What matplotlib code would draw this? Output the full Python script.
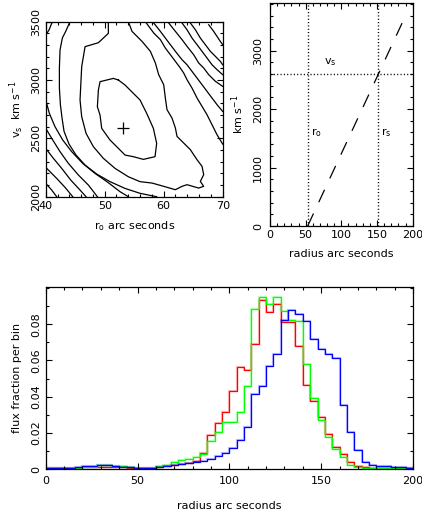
import numpy as np
import matplotlib
matplotlib.use("Agg")
import matplotlib.pyplot as plt
from matplotlib.ticker import MultipleLocator

plt.rcParams['font.family'] = ['DejaVu Sans']
plt.rcParams['mathtext.default'] = 'regular'
plt.rcParams['font.size'] = 8

# ---------------- data: contour panel (r0 [arcsec], vs [km/s]) ----------------
best_r0 = [53.05]
best_vs = [2591]

c1_r = [52.32, 51.47, 49.21, 48.93, 48.76, 49.21, 49.49, 50.90, 52.03, 53.45, 54.86, 56.55,
        58.53, 58.81, 58.25, 57.12, 55.99, 54.86, 53.45, 52.32]
c1_v = [3000, 3014, 2986, 2914, 2771, 2700, 2586, 2486, 2429, 2357, 2343, 2320,
        2343, 2457, 2586, 2714, 2829, 2886, 2957, 3000]

c2_r = [50.62, 50.62, 48.93, 46.67, 46.10, 45.82, 46.10, 46.84, 48.08, 49.77, 51.75, 54.01,
        55.99, 58.02, 60.00, 61.98, 63.11, 63.95, 65.93, 66.78, 66.21, 66.78, 66.50, 65.65,
        64.52, 63.11, 62.26, 61.98, 61.41, 60.56, 60.28, 60.00, 59.15, 58.59, 57.74, 56.33,
        54.63, 54.01]
c2_v = [3500, 3400, 3320, 3286, 3114, 2829, 2686, 2543, 2429, 2329, 2243, 2171,
        2129, 2117, 2089, 2060, 2089, 2103, 2074, 2089, 2131, 2189, 2260, 2317,
        2403, 2474, 2517, 2589, 2674, 2746, 2846, 2960, 3046, 3146, 3246, 3331,
        3417, 3500]

c3a_r = [44.12, 43.39, 42.82, 42.43, 42.32, 42.32, 42.49, 42.77, 43.11, 43.95, 45.14, 46.67,
         48.64, 50.90, 53.45, 55.99, 58.81]
c3a_v = [3500, 3417, 3360, 3257, 3103, 2931, 2789, 2674, 2560, 2451, 2357, 2271,
         2194, 2129, 2071, 2029, 2000]
c3b_r = [56.89, 58.31, 59.44, 60.28, 61.13, 61.98, 62.82, 63.39, 63.95, 64.80, 65.65, 66.50,
         67.34, 68.19, 69.04, 70.00]
c3b_v = [3500, 3403, 3346, 3274, 3217, 3160, 3103, 3060, 3003, 2931, 2846, 2774,
         2703, 2617, 2531, 2451]

c4a_r = [40.00, 40.62, 41.58, 42.88, 44.41, 46.27, 48.36, 50.62, 52.60, 54.01]
c4a_v = [2829, 2714, 2600, 2486, 2386, 2286, 2200, 2120, 2043, 2000]
c4b_r = [58.31, 59.44, 60.28, 61.13, 61.98, 63.11, 63.95, 64.80, 65.65, 66.50, 67.34, 68.19,
         69.04, 70.00]
c4b_v = [3489, 3417, 3360, 3303, 3246, 3174, 3131, 3074, 3017, 2960, 2903, 2846,
         2789, 2731]
c4c_r = [40.00, 40.56, 41.13]
c4c_v = [3386, 3429, 3500]

c5a_r = [40.00, 41.19, 42.43, 43.84, 45.54, 47.23, 48.76]
c5a_v = [2586, 2486, 2386, 2286, 2186, 2100, 2000]
c5b_r = [60.85, 61.98, 63.11, 63.95, 65.08, 65.93, 66.78, 67.63, 68.76, 70.00]
c5b_v = [3489, 3417, 3346, 3289, 3217, 3146, 3103, 3046, 2989, 2946]

c6a_r = [40.00, 41.30, 42.71, 44.24, 45.82, 46.84]
c6a_v = [2414, 2329, 2243, 2143, 2057, 2000]
c6b_r = [63.11, 63.95, 64.80, 65.65, 66.50, 67.34, 68.19, 69.04, 70.00]
c6b_v = [3489, 3431, 3360, 3303, 3246, 3189, 3131, 3089, 3046]

c7a_r = [40.00, 40.45, 41.86, 43.28, 44.58]
c7a_v = [2251, 2229, 2157, 2080, 2000]
c7b_r = [64.52, 65.37, 66.21, 67.06, 67.91, 68.76, 69.60, 70.00]
c7b_v = [3489, 3431, 3360, 3303, 3246, 3203, 3160, 3131]

c8a_r = [40.00, 41.02, 41.86]
c8a_v = [2114, 2057, 2000]
c8b_r = [67.63, 68.47, 69.04, 69.60, 70.00]
c8b_v = [3474, 3417, 3374, 3331, 3303]

contours = [(c1_r, c1_v), (c2_r, c2_v), (c3a_r, c3a_v), (c3b_r, c3b_v),
            (c4a_r, c4a_v), (c4b_r, c4b_v), (c4c_r, c4c_v),
            (c5a_r, c5a_v), (c5b_r, c5b_v), (c6a_r, c6a_v), (c6b_r, c6b_v),
            (c7a_r, c7a_v), (c7b_r, c7b_v), (c8a_r, c8a_v), (c8b_r, c8b_v)]

# ---------------- data: model panel ----------------
r0_line = 52.8
rs_line = 152.0
vs_line = 2600.0
shock_r = [52.8, 190.0]
shock_v = [0.0, 3600.0]

# ---------------- data: histograms (4 arcsec bins, 0..200) ----------------
bin_edges = list(range(0, 204, 4))
red_vals = [0.0003, 0.0003, 0.0004, 0.0005, 0.0008, 0.0010, 0.0012, 0.0012, 0.0012, 0.0010,
            0.0009, 0.0008, 0.0007, 0.0006, 0.0007, 0.0009, 0.0015, 0.0020, 0.0026, 0.0033,
            0.0042, 0.0090, 0.0186, 0.0255, 0.0317, 0.0432, 0.0562, 0.0547, 0.0691, 0.0932,
            0.0866, 0.0913, 0.0810, 0.0810, 0.0680, 0.0467, 0.0375, 0.0289, 0.0196, 0.0120,
            0.0081, 0.0040, 0.0018, 0.0011, 0.0008, 0.0007, 0.0006, 0.0005, 0.0005, 0.0004]
green_vals = [0.0003, 0.0003, 0.0003, 0.0004, 0.0007, 0.0010, 0.0012, 0.0025, 0.0022, 0.0017,
              0.0015, 0.0013, 0.0008, 0.0006, 0.0008, 0.0014, 0.0020, 0.0038, 0.0050, 0.0058,
              0.0065, 0.0085, 0.0157, 0.0206, 0.0260, 0.0260, 0.0313, 0.0460, 0.0885, 0.0953,
              0.0911, 0.0949, 0.0873, 0.0825, 0.0819, 0.0580, 0.0392, 0.0271, 0.0177, 0.0110,
              0.0068, 0.0025, 0.0009, 0.0004, 0.0003, 0.0003, 0.0003, 0.0003, 0.0003, 0.0003]
blue_vals = [0.0003, 0.0004, 0.0005, 0.0008, 0.0012, 0.0015, 0.0018, 0.0020, 0.0025, 0.0015,
             0.0011, 0.0009, 0.0007, 0.0005, 0.0008, 0.0010, 0.0018, 0.0025, 0.0030, 0.0035,
             0.0040, 0.0045, 0.0055, 0.0074, 0.0087, 0.0117, 0.0160, 0.0232, 0.0414, 0.0458,
             0.0571, 0.0638, 0.0821, 0.0879, 0.0854, 0.0817, 0.0719, 0.0661, 0.0638, 0.0613,
             0.0353, 0.0205, 0.0104, 0.0037, 0.0020, 0.0017, 0.0015, 0.0012, 0.0012, 0.0008]

# ---------------- tick labels ----------------
tl_xticks = [40, 50, 60, 70]
tl_yticks = [2000, 2500, 3000, 3500]
tr_xticks = [0, 50, 100, 150, 200]
tr_yticks = [0, 1000, 2000, 3000]
h_xticks = [0, 50, 100, 150, 200]
h_yticks = [0, 0.02, 0.04, 0.06, 0.08]
h_ylabels = ['0', '0.02', '0.04', '0.06', '0.08']

fig = plt.figure(figsize=(4.22, 5.14), dpi=100)


def style(ax, xminor, yminor, xpad=3, ypad=3):
    ax.tick_params(which='both', direction='in', top=True, right=True,
                   width=0.8, colors='black')
    ax.tick_params(which='major', length=4.5)
    ax.tick_params(which='minor', length=2.2)
    ax.tick_params(axis='x', pad=xpad)
    ax.tick_params(axis='y', pad=ypad, labelrotation=90)
    for lab in ax.get_yticklabels():
        lab.set_va('center')
    ax.xaxis.set_minor_locator(MultipleLocator(xminor))
    ax.yaxis.set_minor_locator(MultipleLocator(yminor))
    for s in ax.spines.values():
        s.set_linewidth(0.9)


# ---- top-left: contours ----
ax1 = fig.add_axes([0.1083, 0.6173, 0.4194, 0.3405])
for cr, cv in contours:
    ax1.plot(cr, cv, color='black', lw=0.9)
ax1.plot(best_r0, best_vs, marker='+', color='black', ms=9, mew=0.9, ls='none')
ax1.set_xlim(40, 70)
ax1.set_ylim(2000, 3500)
ax1.set_xticks(tl_xticks)
ax1.set_yticks(tl_yticks)
style(ax1, 2, 100, xpad=3, ypad=3)
ax1.set_xlabel('r$_o$ arc seconds', labelpad=6)
ax1.set_ylabel('v$_s$  km s$^{-1}$', labelpad=4)

# ---- top-right: model ----
ax2 = fig.add_axes([0.6398, 0.5603, 0.3382, 0.4344])
dot = (0, (0.8, 1.6))
ax2.axvline(r0_line, color='black', lw=1.0, ls=dot)
ax2.axvline(rs_line, color='black', lw=1.0, ls=dot)
ax2.axhline(vs_line, color='black', lw=1.0, ls=dot)
ax2.plot(shock_r, shock_v, color='black', lw=0.9, ls=(0, (11, 10)))
ax2.text(84, 2810, 'v$_s$', ha='center', va='center')
ax2.text(64.5, 1590, 'r$_o$', ha='center', va='center')
ax2.text(163.5, 1590, 'r$_s$', ha='center', va='center')
ax2.set_xlim(0, 200)
ax2.set_ylim(0, 3820)
ax2.set_xticks(tr_xticks)
ax2.set_yticks(tr_yticks)
style(ax2, 10, 200, xpad=3, ypad=5)
ax2.set_xlabel('radius arc seconds', labelpad=6)
ax2.set_ylabel('km s$^{-1}$', labelpad=5)

# ---- bottom: histograms ----
ax3 = fig.add_axes([0.1083, 0.0875, 0.8704, 0.3535])
for vals, col in [(red_vals, '#ff0000'), (green_vals, '#00ff00'), (blue_vals, '#0000ff')]:
    ax3.stairs(vals, bin_edges, color=col, lw=1.6, alpha=0.25)
    ax3.stairs(vals, bin_edges, color=col, lw=0.9)
ax3.set_xlim(0, 200)
ax3.set_ylim(0, 0.1004)
ax3.set_xticks(h_xticks)
ax3.set_yticks(h_yticks)
ax3.set_yticklabels(h_ylabels)
style(ax3, 10, 0.01, xpad=5, ypad=3)
ax3.set_xlabel('radius arc seconds', labelpad=11)
ax3.set_ylabel('flux fraction per bin', labelpad=7)

fig.savefig('out.png', dpi=100)
